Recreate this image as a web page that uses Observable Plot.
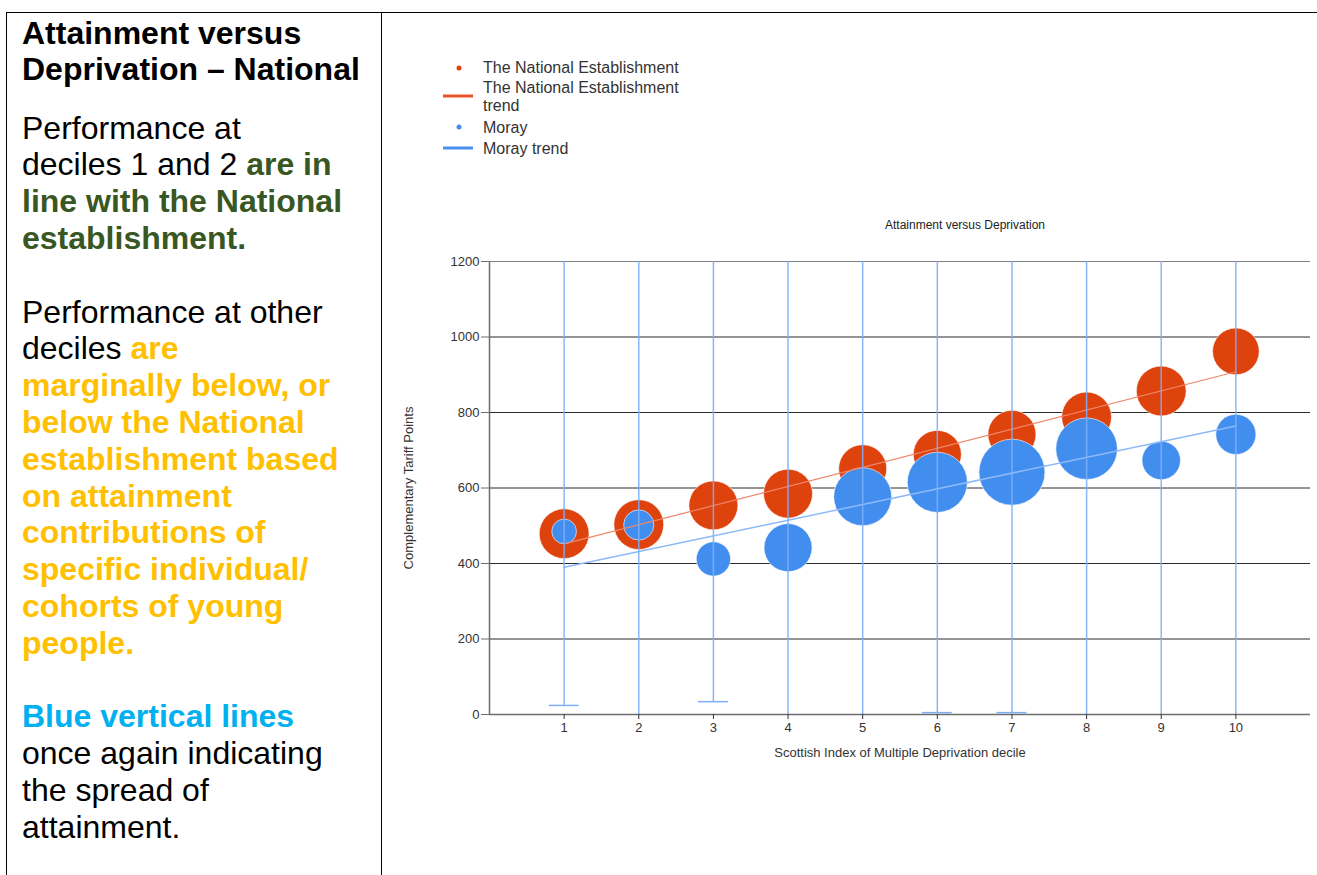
<!DOCTYPE html>
<html><head><meta charset="utf-8">
<script src="https://cdn.jsdelivr.net/npm/d3@7"></script>
<script src="https://cdn.jsdelivr.net/npm/@observablehq/plot@0.6"></script>
<style>
body{margin:0;background:#fff;width:1317px;height:875px;overflow:hidden;position:relative;font-family:Arial,"Liberation Sans",sans-serif;}
#panel{position:absolute;left:6px;top:12px;width:374px;height:900px;border-left:1.5px solid #000;border-top:1.5px solid #000;border-right:1.5px solid #000;}
#topline{position:absolute;left:381px;top:12px;width:936px;border-top:1.5px solid #000;}
.t{position:absolute;left:22px;font-size:32px;line-height:36.8px;white-space:nowrap;color:#000;}
.g{color:#385723;font-weight:bold;}
.y{color:#FFC000;font-weight:bold;}
.c{color:#00B0F0;font-weight:bold;}
.lg{position:absolute;font-size:16px;line-height:18px;color:#333;white-space:nowrap;}
#ctitle{position:absolute;left:765px;width:400px;top:218px;text-align:center;font-size:12px;color:#222;}
#chart{position:absolute;left:385px;top:235px;}
</style>
</head><body>
<div id="panel"></div>
<div id="topline"></div>
<div class="t" style="top:14.6px;font-weight:bold;">Attainment versus<br>Deprivation – National</div>
<div class="t" style="top:109.6px;">Performance at<br>deciles 1 and 2 <span class="g">are in</span><br><span class="g">line with the National</span><br><span class="g">establishment.</span><br><br>Performance at other<br>deciles <span class="y">are</span><br><span class="y">marginally below, or</span><br><span class="y">below the National</span><br><span class="y">establishment based</span><br><span class="y">on attainment</span><br><span class="y">contributions of</span><br><span class="y">specific individual/</span><br><span class="y">cohorts of young</span><br><span class="y">people.</span><br><br><span class="c">Blue vertical lines</span><br>once again indicating<br>the spread of<br>attainment.</div>

<svg style="position:absolute;left:440px;top:55px;" width="40" height="105">
  <circle cx="19" cy="13" r="2.5" fill="#DE420D"/>
  <line x1="3" x2="33" y1="41" y2="41" stroke="#E8552B" stroke-width="3"/>
  <circle cx="19" cy="72" r="2.5" fill="#428EEF"/>
  <line x1="3" x2="33" y1="93" y2="93" stroke="#4A90F0" stroke-width="3"/>
</svg>
<div class="lg" style="left:483px;top:59px;">The National Establishment</div>
<div class="lg" style="left:483px;top:79px;">The National Establishment<br>trend</div>
<div class="lg" style="left:483px;top:119px;">Moray</div>
<div class="lg" style="left:483px;top:140px;">Moray trend</div>

<div id="ctitle">Attainment versus Deprivation</div>
<div id="chart"></div>

<script>
const deciles = [1, 2, 3, 4, 5, 6, 7, 8, 9, 10];
const nationalAttainment = [479, 503, 554, 585, 651, 689, 742, 788, 857, 962];
const nationalCohort = [57, 57, 55, 55, 53, 53, 53, 57, 57, 50];
const morayAttainment = [485, 502, 412, 442, 577, 615, 642, 704, 673, 742];
const morayCohort = [14, 21, 27, 53, 77, 83, 100, 87, 34, 37];
const moraySpreadMin = [24, -40, 34, -40, -40, 5, 5, -40, -40, -40];
const moraySpreadMax = [1300, 1300, 1300, 1300, 1300, 1300, 1300, 1300, 1300, 1300];
const trendDeciles = [1, 10];
const nationalTrend = [452, 908];
const morayTrend = [390, 764];
const yTicks = [0, 200, 400, 600, 800, 1000, 1200];

const national = deciles.map((d, i) => ({decile: d, value: nationalAttainment[i], size: nationalCohort[i]}));
const moray = deciles.map((d, i) => ({decile: d, value: morayAttainment[i], size: morayCohort[i], lo: moraySpreadMin[i], hi: moraySpreadMax[i]}));
const trend = trendDeciles.map((d, i) => ({decile: d, national: nationalTrend[i], moray: morayTrend[i]}));

const chart = Plot.plot({
  width: 932, height: 540,
  marginLeft: 104, marginRight: 7, marginTop: 26, marginBottom: 61,
  style: {fontFamily: "Arial, 'Liberation Sans', sans-serif", fontSize: "12px", color: "#333", background: "transparent", overflow: "visible"},
  x: {domain: [0, 11]},
  y: {domain: [0, 1200]},
  r: {type: "sqrt", domain: [0, 100], range: [0, 33]},
  marks: [
    Plot.ruleY(yTicks.filter(v => v > 0 && v < 1200), {stroke: "#2a2a2a", strokeWidth: 1}),
    Plot.ruleY([1200], {stroke: "#808080", strokeWidth: 1}),
    Plot.dot(national, {x: "decile", y: "value", r: "size", fill: "#DE420D", stroke: "#fff", strokeWidth: 0.6}),
    Plot.dot(moray, {x: "decile", y: "value", r: "size", fill: "#428EEF", stroke: "#fff", strokeWidth: 0.6}),
    Plot.line(trend, {x: "decile", y: "national", stroke: "#F0876A", strokeWidth: 1.2}),
    Plot.line(trend, {x: "decile", y: "moray", stroke: "#8DBAF7", strokeWidth: 1.5}),
    Plot.ruleX(moray, {x: "decile", y1: "lo", y2: "hi", stroke: "#7DAEF8", strokeWidth: 1.5, strokeOpacity: 0.9, clip: true}),
    Plot.ruleY(moray, {y: "lo", x1: d => d.decile - 0.2, x2: d => d.decile + 0.2, stroke: "#7DAEF8", strokeWidth: 1.5, clip: true}),
    Plot.ruleX([0], {stroke: "#6e6e6e", strokeWidth: 1.5}),
    Plot.ruleY([0], {stroke: "#6e6e6e", strokeWidth: 1.5}),
    Plot.axisY({ticks: yTicks, tickFormat: d => String(d), tickSize: 8, tickPadding: 2, fontSize: 13, stroke: "#6e6e6e", label: "Complementary Tariff Points", labelArrow: "none", labelAnchor: "center", labelOffset: 86}),
    Plot.axisX({ticks: deciles, tickFormat: d => String(d), tickSize: 5, tickPadding: 3, fontSize: 13, stroke: "#333", label: "Scottish Index of Multiple Deprivation decile", labelArrow: "none", labelAnchor: "center", labelOffset: 42})
  ]
});
document.getElementById("chart").appendChild(chart);
</script>
</body></html>
